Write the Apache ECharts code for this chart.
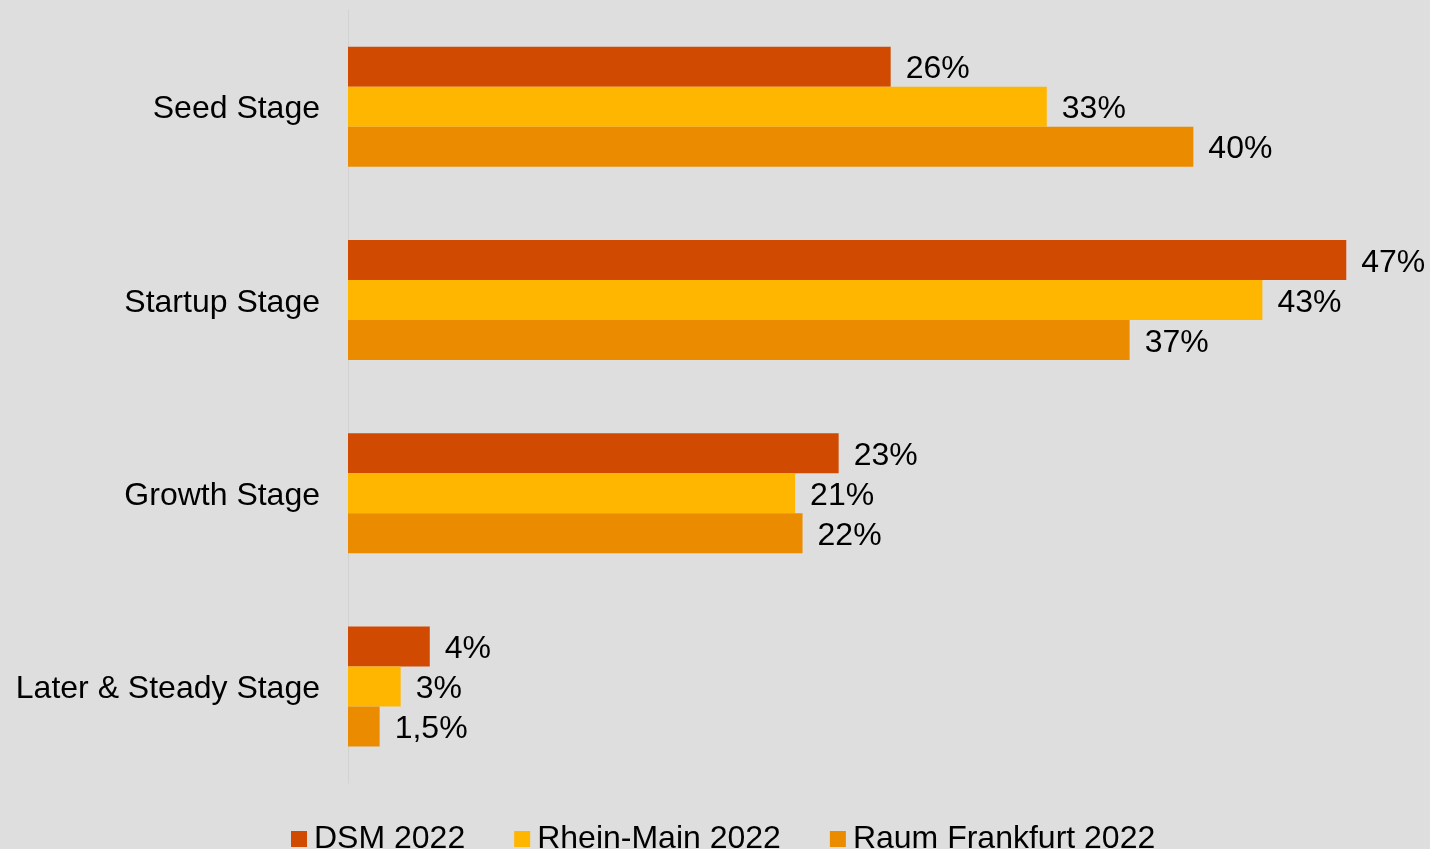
<!DOCTYPE html>
<html>
<head>
<meta charset="utf-8">
<script src="https://cdn.jsdelivr.net/npm/echarts@6/dist/echarts.min.js"></script>
<style>
html,body{margin:0;padding:0;background:#dedede;}
#chart{width:1430px;height:849px;}
</style>
</head>
<body>
<div id="chart"></div>
<script>
const categories = ['Seed Stage', 'Startup Stage', 'Growth Stage', 'Later & Steady Stage'];
const seriesNames = ['DSM 2022', 'Rhein-Main 2022', 'Raum Frankfurt 2022'];
const dsmValues = [25.55, 47.0, 23.1, 3.85];
const rheinMainValues = [32.9, 43.05, 21.05, 2.48];
const frankfurtValues = [39.8, 36.8, 21.4, 1.49];
const dsmLabels = ['26%', '47%', '23%', '4%'];
const rheinMainLabels = ['33%', '43%', '21%', '3%'];
const frankfurtLabels = ['40%', '37%', '22%', '1,5%'];
const colors = ['#d04a02', '#ffb600', '#eb8c00'];

const font = 'Liberation Sans, Arial, sans-serif';

function makeSeries(name, values, labels, color) {
  return {
    name: name,
    type: 'bar',
    data: values,
    barWidth: 40,
    barGap: '0%',
    itemStyle: { color: color },
    label: {
      show: true,
      position: 'right',
      distance: 15,
      offset: [0, 3],
      color: '#000',
      fontFamily: font,
      fontSize: 32,
      formatter: p => labels[p.dataIndex]
    },
    emphasis: { disabled: true }
  };
}

const chart = echarts.init(document.getElementById('chart'), null, { renderer: 'canvas' });
chart.setOption({
  backgroundColor: '#dedede',
  animation: false,
  color: colors,
  grid: { left: 348, top: 10, width: 1062, height: 773, containLabel: false },
  xAxis: {
    type: 'value',
    min: 0,
    max: 50,
    show: false
  },
  yAxis: {
    type: 'category',
    data: categories,
    inverse: true,
    axisLine: { show: true, lineStyle: { color: '#d2d2d2', width: 1 } },
    axisTick: { show: false },
    axisLabel: {
      color: '#000', fontFamily: font, fontSize: 32, margin: 28,
      formatter: v => '{c|' + v + '}',
      rich: { c: { color: '#000', fontFamily: font, fontSize: 32, padding: [6, 0, 0, 0] } }
    }
  },
  legend: {
    data: seriesNames,
    left: 286,
    top: 818,
    itemWidth: 16,
    itemHeight: 16,
    itemGap: 49,
    icon: 'rect',
    textStyle: { color: '#000', fontFamily: font, fontSize: 32, padding: [0, 0, 0, 2] }
  },
  series: [
    makeSeries(seriesNames[0], dsmValues, dsmLabels, colors[0]),
    makeSeries(seriesNames[1], rheinMainValues, rheinMainLabels, colors[1]),
    makeSeries(seriesNames[2], frankfurtValues, frankfurtLabels, colors[2])
  ]
});
</script>
</body>
</html>
